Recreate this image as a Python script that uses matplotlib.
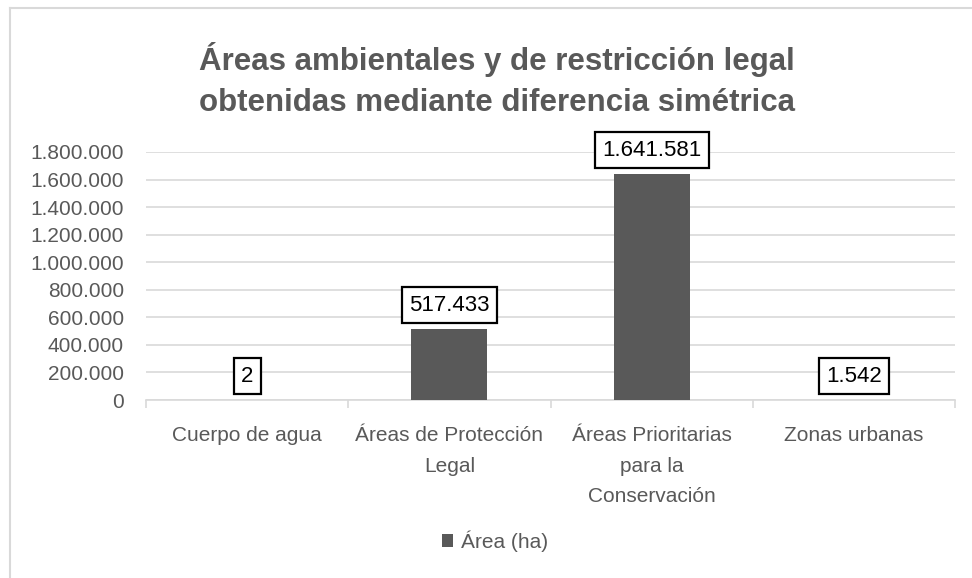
import matplotlib.pyplot as plt
from matplotlib.lines import Line2D
from matplotlib.ticker import FuncFormatter, FixedLocator
import numpy as np

plt.rcParams['font.family'] = ['Liberation Sans', 'DejaVu Sans']

categorias = ["Cuerpo de agua", "Áreas de Protección\nLegal",
              "Áreas Prioritarias\npara la\nConservación", "Zonas urbanas"]
area_ha = [2, 517433, 1641581, 1542]
etiquetas = ["2", "517.433", "1.641.581", "1.542"]
yticks = [0, 200000, 400000, 600000, 800000, 1000000, 1200000,
          1400000, 1600000, 1800000]

gris = "#595959"
grid = "#d9d9d9"

fig = plt.figure(figsize=(9.72, 5.78), dpi=100)
ax = fig.add_axes([146 / 972, 1 - 400 / 578, (955 - 146) / 972, (400 - 152) / 578])

x = np.arange(len(categorias))
ax.bar(x, area_ha, width=0.375, color=gris, zorder=3, label="Área (ha)")

for xi, v, t in zip(x, area_ha, etiquetas):
    ax.annotate(t, (xi, v), xytext=(0, 9.5), textcoords="offset points",
                ha="center", va="bottom", fontsize=16, color="black", zorder=5,
                bbox=dict(boxstyle="square,pad=0.33", fc="white", ec="black", lw=1.6))

ax.set_xlim(-0.5, len(categorias) - 0.5)
ax.set_ylim(0, 1800000)
ax.yaxis.set_major_locator(FixedLocator(yticks))
ax.yaxis.set_major_formatter(FuncFormatter(lambda v, p: f"{int(v):,}".replace(",", ".")))
ax.grid(axis="y", color=grid, lw=1.2, zorder=0)

ax.set_xticks(x)
ax.set_xticklabels(categorias, fontsize=15, color=gris, va="top", linespacing=1.75)
ax.set_xticks(np.arange(-0.5, len(categorias)), minor=True)
ax.tick_params(axis="x", which="major", length=0, pad=19)
ax.tick_params(axis="x", which="minor", length=6, color=grid, width=1.2)
ax.tick_params(axis="y", length=0, labelsize=15, labelcolor=gris, pad=16)

for s in ["top", "right", "left"]:
    ax.spines[s].set_visible(False)
ax.spines["bottom"].set_color(grid)
ax.spines["bottom"].set_linewidth(1.2)

fig.text(497 / 972, 1 - 80 / 578,
         "Áreas ambientales y de restricción legal\nobtenidas mediante diferencia simétrica",
         ha="center", va="center", fontsize=22.5, fontweight="bold", color=gris,
         linespacing=1.45)

leg = fig.legend(loc="center", bbox_to_anchor=(495 / 972, 1 - 541 / 578), frameon=False,
                 fontsize=15, handlelength=0.55, handleheight=0.55, handletextpad=0.4)
for t in leg.get_texts():
    t.set_color(gris)

# marco del gráfico
fig.add_artist(Line2D([10 / 972, 10 / 972], [0, 1 - 8 / 578], color=grid, lw=1.5))
fig.add_artist(Line2D([10 / 972, 1], [1 - 8 / 578, 1 - 8 / 578], color=grid, lw=1.5))

fig.savefig("out.png", dpi=100)
